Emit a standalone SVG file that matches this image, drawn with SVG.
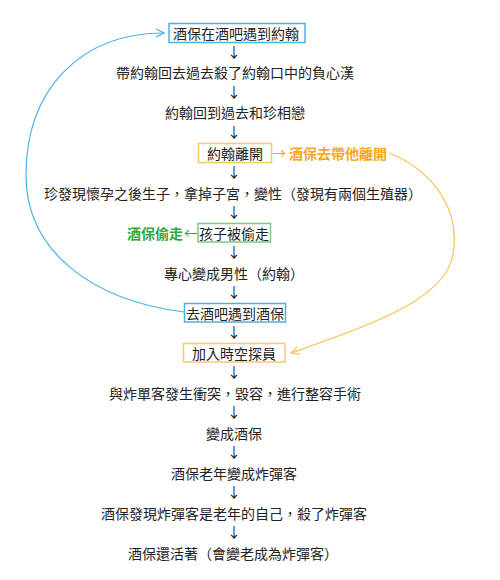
<svg xmlns="http://www.w3.org/2000/svg" width="500" height="580" viewBox="0 0 500 580" xml:lang="zh-Hant-TW" lang="zh-Hant-TW">
<style>
text{font-family:"Noto Sans CJK TC","Noto Sans CJK SC",sans-serif;font-size:14px;fill:#222;text-anchor:middle}
.ar{font-family:"Noto Sans CJK TC","Noto Sans CJK SC",sans-serif;font-size:14px;fill:#222}
.box{fill:#fff;stroke-width:1.5}
.blue{stroke:#4ab2e8}
.orange{stroke:#f9c86a}
.green{stroke:#7ccb82}
.ot{fill:#f5a623;font-weight:bold}
.gt{fill:#2faa3a;font-weight:bold}
.curve{fill:none;stroke-width:1.2}
</style>
<defs>
<marker id="mb" viewBox="0 0 10 10" refX="9" refY="5" markerWidth="10" markerHeight="10" markerUnits="userSpaceOnUse" orient="auto"><path d="M1 1 L9 5 L1 9" fill="none" stroke="#4ab2e8" stroke-width="1.2"/></marker>
<marker id="mo" viewBox="0 0 10 10" refX="9" refY="5" markerWidth="10" markerHeight="10" markerUnits="userSpaceOnUse" orient="auto"><path d="M1 1 L9 5 L1 9" fill="none" stroke="#f9c24f" stroke-width="1.2"/></marker>
</defs>
<g id="connectors">
<path class="curve" d="M184 312 C90 300 26 250 26 175 C26 90 80 33 164 33" stroke="#4ab2e8" marker-end="url(#mb)"/>
<path class="curve" d="M390 153 C440 175 460 215 453 255 C445 300 370 325 291 353" stroke="#f9c24f" marker-end="url(#mo)"/>
<text class="ar" x="234" y="57">↓</text>
<text class="ar" x="234" y="97">↓</text>
<text class="ar" x="234" y="137">↓</text>
<text class="ar" x="234" y="177">↓</text>
<text class="ar" x="234" y="217">↓</text>
<text class="ar" x="234" y="257">↓</text>
<text class="ar" x="234" y="297">↓</text>
<text class="ar" x="234" y="337">↓</text>
<text class="ar" x="234" y="377">↓</text>
<text class="ar" x="234" y="417">↓</text>
<text class="ar" x="234" y="457">↓</text>
<text class="ar" x="234" y="497">↓</text>
<text class="ar" x="234" y="537">↓</text>
<text class="ar" x="279" y="158" style="fill:#f5a623">→</text>
<text class="ar" x="191" y="238" style="fill:#2faa3a">←</text>
</g>
<g id="n1"><rect class="box blue" x="169" y="23.5" width="136" height="19"/><text x="236" y="38.5">酒保在酒吧遇到約翰</text></g>
<g id="n2"><text x="235" y="78">帶約翰回去過去殺了約翰口中的負心漢</text></g>
<g id="n3"><text x="235" y="118">約翰回到過去和珍相戀</text></g>
<g id="n4"><rect class="box orange" x="198.5" y="143.5" width="73" height="19"/><text x="235" y="158.5">約翰離開</text></g>
<g id="n4b"><text class="ot" x="338" y="158.5">酒保去帶他離開</text></g>
<g id="n5"><text x="233" y="198.5">珍發現懷孕之後生子，拿掉子宮，變性（發現有兩個生殖器）</text></g>
<g id="n6"><rect class="box green" x="198" y="223.5" width="72.5" height="18.5"/><text x="234" y="238.5">孩子被偷走</text></g>
<g id="n6b"><text class="gt" x="155" y="238.5">酒保偷走</text></g>
<g id="n7"><text x="234" y="278.5">專心變成男性（約翰）</text></g>
<g id="n8"><rect class="box blue" x="184.5" y="303.5" width="101" height="18.5"/><text x="235" y="318.5">去酒吧遇到酒保</text></g>
<g id="n9"><rect class="box orange" x="183.5" y="343.5" width="101.5" height="18.5"/><text x="234" y="358.5">加入時空探員</text></g>
<g id="n10"><text x="235" y="398.5">與炸單客發生衝突，毀容，進行整容手術</text></g>
<g id="n11"><text x="234" y="438.5">變成酒保</text></g>
<g id="n12"><text x="234" y="478.5">酒保老年變成炸彈客</text></g>
<g id="n13"><text x="234" y="518.5">酒保發現炸彈客是老年的自己，殺了炸彈客</text></g>
<g id="n14"><text x="233" y="558.5">酒保還活著（會變老成為炸彈客）</text></g>
</svg>
